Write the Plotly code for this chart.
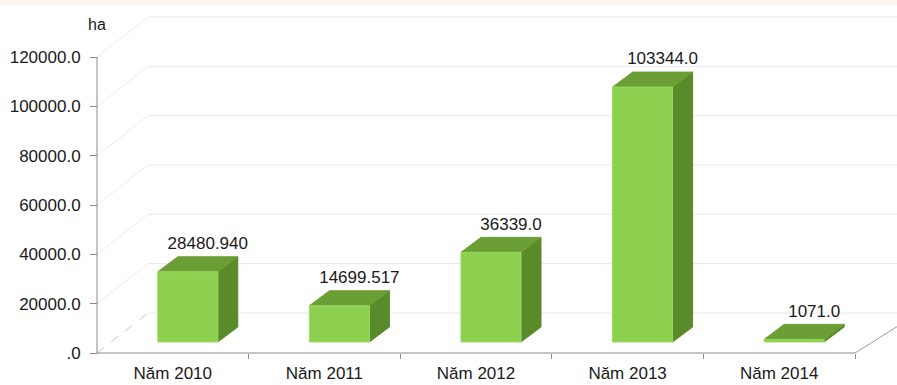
import plotly.graph_objects as go

# ---------------- data ----------------
categories = ["Năm 2010", "Năm 2011", "Năm 2012", "Năm 2013", "Năm 2014"]
values = [28480.940, 14699.517, 36339.0, 103344.0, 1071.0]
value_labels = ["28480.940", "14699.517", "36339.0", "103344.0", "1071.0"]
y_tick_values = [0, 20000, 40000, 60000, 80000, 100000, 120000]
y_tick_labels = [".0", "20000.0", "40000.0", "60000.0", "80000.0", "100000.0", "120000.0"]
unit_label = "ha"

# ---------------- layout geometry (pixels) ----------------
W, H = 897, 385
ML, MB = 50, 20
AX_LEFT_PX, AX_BOTTOM_PX, AX_RIGHT_PX, Y_TOP_PX = 97, 353, 855, 57
CAT_PX = (AX_RIGHT_PX - AX_LEFT_PX) / len(categories)
VPP = y_tick_values[-1] / (AX_BOTTOM_PX - Y_TOP_PX)  # value per pixel

x_range = [(ML - AX_LEFT_PX) / CAT_PX - 0.5, (W - AX_LEFT_PX) / CAT_PX - 0.5]
y_range = [-(H - MB - AX_BOTTOM_PX) * VPP, AX_BOTTOM_PX * VPP]

# 3D depth of the wall and bars
DX, DY = 51 / CAT_PX, 40 * VPP
FX, FY = 15 / CAT_PX, 11 * VPP
HW = 30 / CAT_PX
BDX, BDY = 20 / CAT_PX, 15 * VPP
LABEL_GAP = 12 * VPP

FRONT, TOP, SIDE = "#8dd04f", "#6b9f35", "#5a8b2b"
FONT = "Liberation Sans, Arial, sans-serif"

fig = go.Figure()

x_left = -0.5
x_right = len(categories) - 0.5

shapes = []
# faint peach band at top
shapes.append(dict(type="rect", xref="paper", yref="paper", x0=-ML / (W - ML), x1=1,
                   y0=1 - 5 / (H - MB), y1=1, fillcolor="#fdf3ee", line_width=0, layer="below"))
# back wall gridlines + side diagonals
for v in y_tick_values:
    shapes.append(dict(type="line", xref="x", yref="y", x0=x_left, y0=v, x1=x_left + DX, y1=v + DY,
                       line=dict(color="#ececec" if v else "#c8c8c8", width=1, dash="solid" if v else "dash"),
                       layer="below"))
    shapes.append(dict(type="line", xref="x", yref="y", x0=x_left + DX, y0=v + DY, x1=x_right + DX + 1, y1=v + DY,
                       line=dict(color="#e9e9e9", width=1), layer="below"))
# floor right edge
shapes.append(dict(type="line", xref="x", yref="y", x0=x_right, y0=0, x1=x_right + DX, y1=DY * 0.8,
                   line=dict(color="#9a9a9a", width=1)))
# axis lines
shapes.append(dict(type="line", xref="x", yref="y", x0=x_left, y0=0, x1=x_right, y1=0,
                   line=dict(color="#8a8a8a", width=1)))
shapes.append(dict(type="line", xref="x", yref="y", x0=x_left, y0=0, x1=x_left, y1=y_tick_values[-1],
                   line=dict(color="#8a8a8a", width=1)))

# bars
for i, v in enumerate(values):
    xl, xr = i + FX - HW, i + FX + HW
    yb, yt = FY, FY + v
    side_x = [xr, xr + BDX, xr + BDX, xr, xr]
    side_y = [yb, yb + BDY, yt + BDY, yt, yb]
    top_x = [xl, xr, xr + BDX, xl + BDX, xl]
    top_y = [yt, yt, yt + BDY, yt + BDY, yt]
    front_x = [xl, xr, xr, xl, xl]
    front_y = [yb, yb, yt, yt, yb]
    for px, py, col, lc in [(side_x, side_y, SIDE, SIDE), (top_x, top_y, TOP, TOP),
                            (front_x, front_y, FRONT, "#9bd962")]:
        fig.add_trace(go.Scatter(x=px, y=py, mode="lines", fill="toself", fillcolor=col,
                                 line=dict(color=lc, width=1), hoverinfo="skip", showlegend=False))

# value labels
fig.add_trace(go.Scatter(
    x=[i + FX + BDX for i in range(len(values))],
    y=[FY + v + BDY + LABEL_GAP for v in values],
    mode="text", text=value_labels, textposition="middle center",
    textfont=dict(family=FONT, size=17, color="#1a1a1a"),
    hoverinfo="skip", showlegend=False, cliponaxis=False))

fig.add_annotation(x=x_left, y=(AX_BOTTOM_PX - 24) * VPP, xref="x", yref="y", text=unit_label,
                   showarrow=False, xanchor="center", yanchor="middle",
                   font=dict(family=FONT, size=16, color="#1a1a1a"))

fig.update_layout(
    width=W, height=H,
    margin=dict(l=ML, r=0, t=0, b=MB, pad=0),
    paper_bgcolor="white", plot_bgcolor="white",
    shapes=shapes,
    xaxis=dict(range=x_range, anchor="free", position=(H - MB - AX_BOTTOM_PX) / (H - MB),
               tickmode="array", tickvals=list(range(len(categories))), ticktext=categories,
               ticks="", showgrid=False, zeroline=False, showline=False, ticklabelstandoff=8,
               tickfont=dict(family=FONT, size=17, color="#1a1a1a"),
               minor=dict(tickmode="array", tickvals=[k + 0.5 for k in range(len(categories))],
                          ticks="outside", ticklen=5, tickcolor="#8a8a8a", showgrid=False)),
    yaxis=dict(range=y_range, anchor="free", position=(AX_LEFT_PX - ML) / (W - ML),
               tickmode="array", tickvals=y_tick_values, ticktext=y_tick_labels,
               ticks="outside", ticklen=7, tickcolor="#8a8a8a", ticklabelstandoff=6,
               showgrid=False, zeroline=False, showline=False,
               tickfont=dict(family=FONT, size=17, color="#1a1a1a")),
)

fig.write_html("out.html", config={"displayModeBar": False},
               post_script="document.body.style.margin='0';document.body.style.overflow='hidden';")
